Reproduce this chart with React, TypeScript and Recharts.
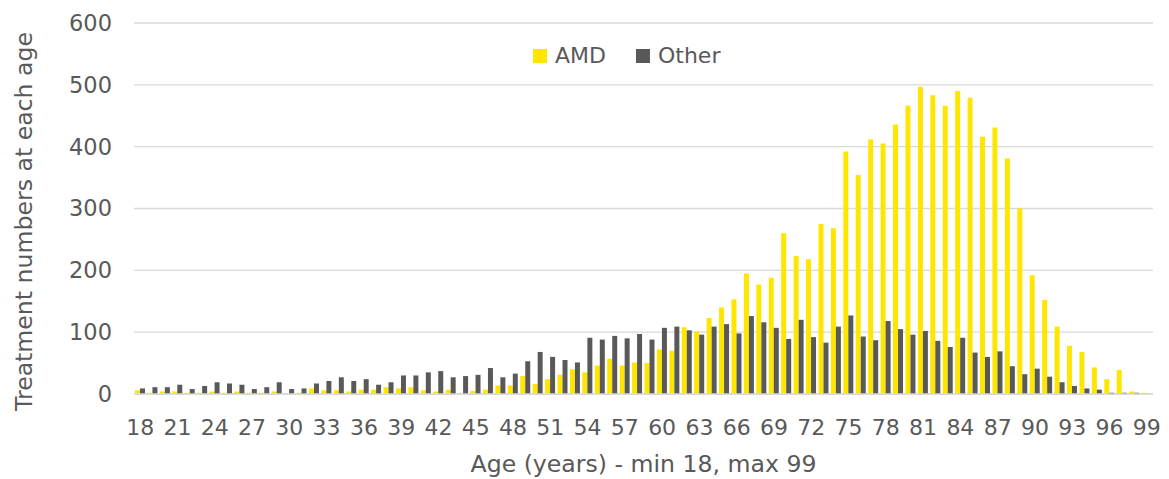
import { BarChart, Bar, XAxis, YAxis, CartesianGrid, Legend, Label } from 'recharts';

const ages = [
  18, 19, 20, 21, 22, 23, 24, 25, 26, 27, 28, 29, 30, 31, 32, 33, 34, 35, 36, 37, 38,
  39, 40, 41, 42, 43, 44, 45, 46, 47, 48, 49, 50, 51, 52, 53, 54, 55, 56, 57, 58, 59,
  60, 61, 62, 63, 64, 65, 66, 67, 68, 69, 70, 71, 72, 73, 74, 75, 76, 77, 78, 79, 80,
  81, 82, 83, 84, 85, 86, 87, 88, 89, 90, 91, 92, 93, 94, 95, 96, 97, 98, 99,
];

const amd = [
  6, 2, 4, 4, 2, 2, 4, 2, 4, 2, 2, 4, 0, 2, 9, 6, 6, 4, 7, 7, 11,
  9, 11, 6, 4, 7, 1, 5, 7, 14, 14, 29, 16, 24, 31, 40, 35, 46, 57, 46, 51, 50,
  72, 70, 108, 101, 123, 140, 153, 195, 177, 188, 260, 223, 218, 275, 268, 392, 354, 412, 405, 436, 466,
  497, 483, 466, 490, 479, 416, 431, 381, 300, 192, 152, 109, 78, 68, 43, 24, 39, 4, 2,
];

const other = [
  9, 11, 11, 15, 8, 13, 19, 17, 15, 8, 11, 19, 8, 9, 17, 21, 27, 21, 24, 15, 19,
  30, 30, 35, 37, 27, 29, 31, 42, 27, 33, 53, 68, 60, 55, 51, 91, 88, 94, 90, 97, 88,
  107, 109, 103, 96, 109, 113, 98, 126, 116, 107, 89, 120, 92, 83, 109, 127, 93, 87, 118, 105, 96,
  102, 86, 76, 91, 67, 60, 69, 45, 32, 41, 28, 19, 13, 9, 7, 2, 2, 2, 0,
];

const yTicks = [0, 100, 200, 300, 400, 500, 600];

const series = [
  { key: 'AMD', color: '#FFE600' },
  { key: 'Other', color: '#595959' },
];

const data = ages.map((age, i) => ({ age, AMD: amd[i], Other: other[i] }));

const FONT = '"DejaVu Sans", Verdana, sans-serif';
const TEXT = '#595959';
const GRID = '#d9d9d9';

const renderLegend = () => (
  <div style={{ display: 'flex', alignItems: 'center', fontFamily: FONT, fontSize: 22, color: TEXT, lineHeight: '26px' }}>
    {series.map((s, i) => (
      <div key={s.key} style={{ display: 'flex', alignItems: 'center', marginLeft: i === 0 ? 0 : 30 }}>
        <span style={{ width: 14, height: 14, background: s.color, display: 'inline-block', marginRight: 8 }} />
        <span>{s.key}</span>
      </div>
    ))}
  </div>
);

// rotated y title, placed by hand so it sits left of the tick labels
const YTitle = ({ viewBox }: any) => {
  const cy = viewBox.y + viewBox.height / 2 + 13;
  return (
    <text
      x={24}
      y={cy}
      transform={`rotate(-90, 24, ${cy})`}
      textAnchor="middle"
      fill={TEXT}
      fontSize={23.6}
      fontFamily={FONT}
    >
      Treatment numbers at each age
    </text>
  );
};

export default function App() {
  return (
    <div style={{ fontFamily: FONT }}>
      <BarChart
        width={1161}
        height={471}
        data={data}
        margin={{ top: 15, right: 16, left: 0, bottom: 0 }}
        barCategoryGap={1}
        barGap={0}
      >
        <CartesianGrid vertical={false} stroke={GRID} strokeWidth={1.3} />
        <XAxis
          dataKey="age"
          height={85}
          interval={2}
          tickLine={false}
          tickMargin={19}
          axisLine={{ stroke: GRID, strokeWidth: 1.3 }}
          tick={{ fill: TEXT, fontSize: 22, fontFamily: FONT }}
        >
          <Label
            value="Age (years) - min 18, max 99"
            position="insideBottom"
            offset={7}
            fill={TEXT}
            fontSize={23.6}
            fontFamily={FONT}
          />
        </XAxis>
        <YAxis
          width={126}
          domain={[0, 600]}
          ticks={yTicks}
          axisLine={false}
          tickLine={false}
          tickMargin={16}
          tick={{ fill: TEXT, fontSize: 22.5, fontFamily: FONT }}
        >
          <Label content={YTitle} />
        </YAxis>
        <Legend
          content={renderLegend}
          layout="horizontal"
          verticalAlign="middle"
          align="center"
          wrapperStyle={{ top: 35, left: 525, width: 320 }}
        />
        {series.map((s) => (
          <Bar key={s.key} dataKey={s.key} fill={s.color} isAnimationActive={false} />
        ))}
      </BarChart>
    </div>
  );
}
